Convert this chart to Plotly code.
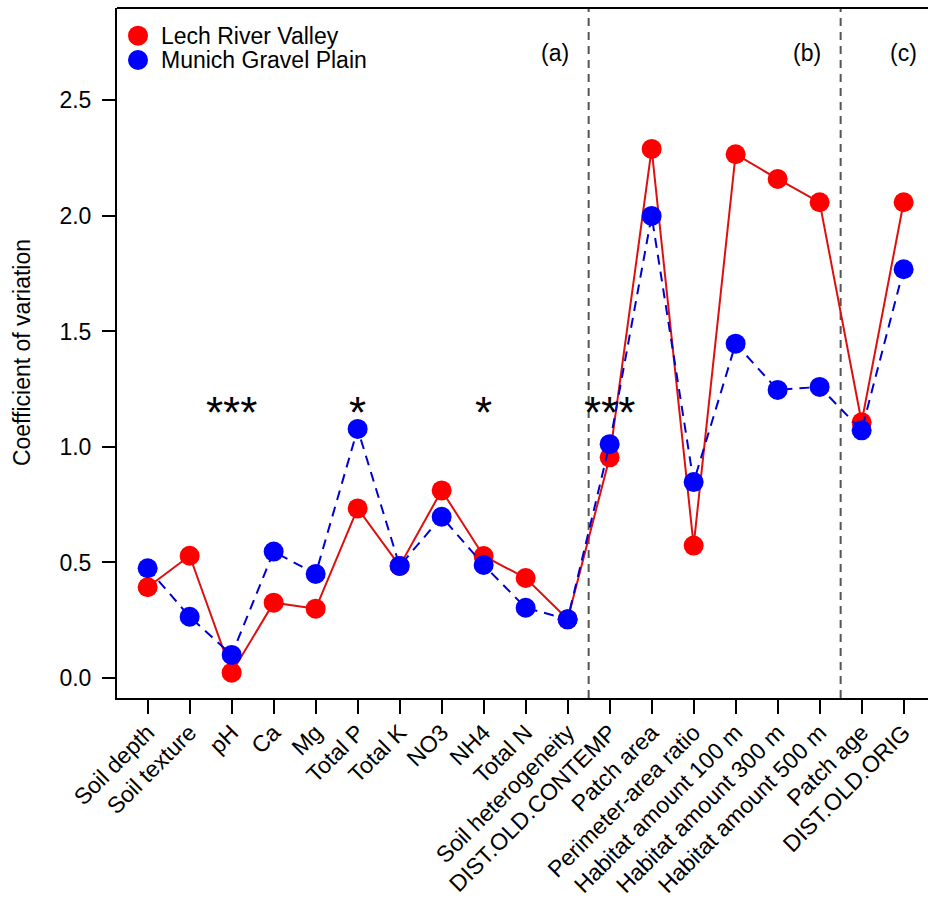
import plotly.graph_objects as go

# Variables (x axis categories)
categories = [
    "Soil depth", "Soil texture", "pH", "Ca", "Mg", "Total P", "Total K",
    "NO3", "NH4", "Total N", "Soil heterogeneity", "DIST.OLD.CONTEMP",
    "Patch area", "Perimeter-area ratio", "Habitat amount 100 m",
    "Habitat amount 300 m", "Habitat amount 500 m", "Patch age",
    "DIST.OLD.ORIG",
]

# Coefficient of variation per region
lech_cv = [0.393, 0.529, 0.023, 0.326, 0.300, 0.734, 0.485, 0.812, 0.528,
           0.433, 0.254, 0.955, 2.290, 0.573, 2.267, 2.160, 2.059, 1.107,
           2.059]
munich_cv = [0.475, 0.265, 0.100, 0.547, 0.450, 1.078, 0.485, 0.698, 0.489,
             0.304, 0.254, 1.012, 2.000, 0.848, 1.447, 1.247, 1.260, 1.072,
             1.769]

# Significance of the difference between regions
significance = ["", "", "***", "", "", "*", "", "", "*", "", "", "***",
                "", "", "", "", "", "", ""]

# Group boundaries and group labels
group_breaks = [10.5, 16.5]
group_labels = [("(a)", 10.08), ("(b)", 16.08), ("(c)", 18.36)]

y_ticks = [0.0, 0.5, 1.0, 1.5, 2.0, 2.5]

FONT = "Liberation Sans, Arial, sans-serif"
x_idx = list(range(len(categories)))

fig = go.Figure()

fig.add_trace(go.Scatter(
    x=x_idx, y=lech_cv, mode="lines+markers", name="Lech River Valley",
    line=dict(color="#dd1010", width=2),
    marker=dict(color="#ff0000", size=20, line=dict(width=0)),
    showlegend=False,
))
fig.add_trace(go.Scatter(
    x=x_idx, y=munich_cv, mode="lines+markers", name="Munich Gravel Plain",
    line=dict(color="#0000d0", width=2, dash="10px,7px"),
    marker=dict(color="#0000ff", size=20, line=dict(width=0)),
    showlegend=False,
))

shapes = []
for xb in group_breaks:
    shapes.append(dict(
        type="line", xref="x", yref="paper", x0=xb, x1=xb, y0=0, y1=1,
        line=dict(color="#555555", width=2, dash="8px,6px"), layer="below",
    ))
# top frame edge
shapes.append(dict(type="line", xref="paper", yref="paper", x0=0, x1=1,
                   y0=1, y1=1, line=dict(color="black", width=2)))

annotations = []
for i, s in enumerate(significance):
    if s:
        annotations.append(dict(
            x=i, y=1.15, xref="x", yref="y", text=s, showarrow=False,
            font=dict(family=FONT, size=44, color="black"),
            xanchor="center", yanchor="middle",
        ))
for lab, xpos in group_labels:
    annotations.append(dict(
        x=xpos, y=2.706, xref="x", yref="y", text=lab, showarrow=False,
        font=dict(family=FONT, size=23, color="black"),
        xanchor="right", yanchor="middle",
    ))

# legend drawn as circles and text in the top-left corner
legend_items = [("Lech River Valley", "#ff0000", 0.9599),
                ("Munich Gravel Plain", "#0000ff", 0.9246)]
for name, col, ypos in legend_items:
    shapes.append(dict(
        type="circle", xref="paper", yref="paper",
        xsizemode="pixel", ysizemode="pixel",
        xanchor=0.0259, yanchor=ypos, x0=-10, x1=10, y0=-10, y1=10,
        fillcolor=col, line=dict(width=0),
    ))
    annotations.append(dict(
        x=0.0518, y=ypos, xref="paper", yref="paper", text=name,
        showarrow=False, font=dict(family=FONT, size=23, color="black"),
        xanchor="left", yanchor="middle",
    ))

# y axis title
annotations.append(dict(
    x=-0.117, y=0.5, xref="paper", yref="paper",
    text="Coefficient of variation", textangle=-90, showarrow=False,
    font=dict(family=FONT, size=23, color="black"),
    xanchor="center", yanchor="middle",
))

fig.update_layout(
    width=928, height=897,
    margin=dict(l=117, r=0, t=8, b=199, autoexpand=False),
    paper_bgcolor="white", plot_bgcolor="white",
    font=dict(family=FONT, size=23, color="black"),
    shapes=shapes, annotations=annotations,
    showlegend=False,
)

fig.update_xaxes(
    range=[-0.73, 18.58], tickmode="array", tickvals=x_idx,
    ticktext=categories, tickangle=-45, automargin=False,
    ticks="outside", ticklen=14, tickwidth=2, tickcolor="black",
    ticklabelstandoff=-4,
    showline=True, linecolor="black", linewidth=2,
    showgrid=False, zeroline=False,
    tickfont=dict(family=FONT, size=23, color="black"),
)
fig.update_yaxes(
    range=[-0.0866, 2.900], tickmode="array", tickvals=y_ticks,
    ticktext=[f"{v:.1f}" for v in y_ticks], automargin=False,
    ticks="outside", ticklen=13, tickwidth=2, tickcolor="black",
    ticklabelstandoff=6,
    showline=True, linecolor="black", linewidth=2,
    showgrid=False, zeroline=False,
    tickfont=dict(family=FONT, size=23, color="black"),
)

fig.write_html("out.html")
